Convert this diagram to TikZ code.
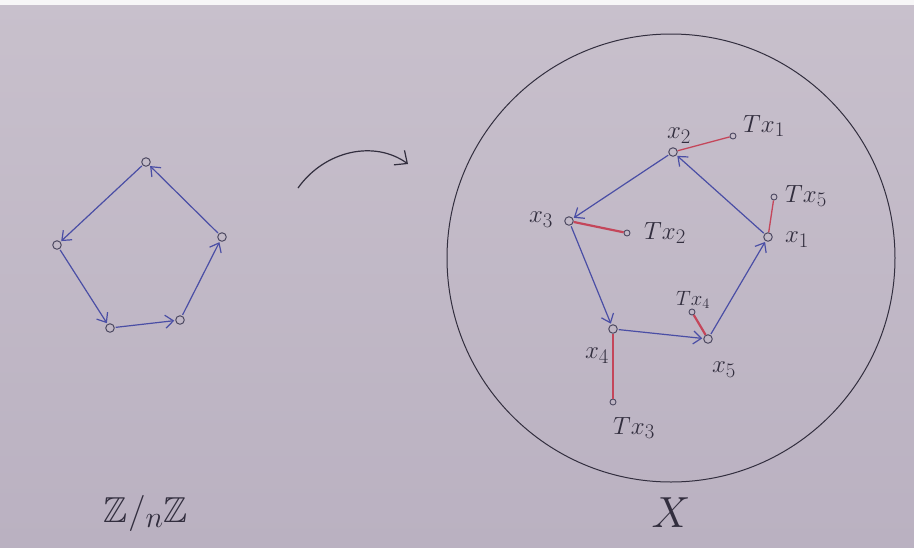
\documentclass[tikz,border=0pt]{standalone}
\usepackage{amssymb}
\usepackage{graphicx}
\usetikzlibrary{arrows.meta}
\definecolor{papertop}{RGB}{200,192,204}
\definecolor{paperbot}{RGB}{186,177,193}
\definecolor{ink}{RGB}{50,46,62}
\definecolor{bluepen}{RGB}{74,78,165}
\definecolor{redpen}{RGB}{196,70,90}
\definecolor{nodepen}{RGB}{78,74,98}
\tikzset{
  vtx/.style={circle,draw=nodepen,line width=1pt,inner sep=0pt,minimum size=8.5pt},
  tvtx/.style={circle,draw=nodepen,line width=0.9pt,inner sep=0pt,minimum size=6pt},
  barrow/.style={draw=bluepen,line width=1.2pt,-{Straight Barb[length=8pt,width=13pt]},shorten >=1pt,shorten <=1pt},
  rline/.style={draw=redpen,line width=1.3pt},
  lbl/.style={text=ink,inner sep=0pt,font=\fontsize{24.88}{27}\selectfont},
  slbl/.style={text=ink,inner sep=0pt,font=\fontsize{20.74}{23}\selectfont}
}
\begin{document}
\begin{tikzpicture}[x=1pt,y=-1pt]
\useasboundingbox (0,0) rectangle (914,547);
\shade[top color=papertop,bottom color=paperbot] (0,0) rectangle (914,547);
\fill[white!85!papertop] (0,0) rectangle (914,5);

% left pentagon
\node[vtx] (p1) at (146,162) {};
\node[vtx] (p2) at (57,245) {};
\node[vtx] (p3) at (110,328) {};
\node[vtx] (p4) at (180,320) {};
\node[vtx] (p5) at (222,237) {};
\draw[barrow] (p1) -- (p2);
\draw[barrow] (p2) -- (p3);
\draw[barrow] (p3) -- (p4);
\draw[barrow] (p4) -- (p5);
\draw[barrow] (p5) -- (p1);

% map arrow
\coordinate (ms) at (298,188);
\coordinate (me) at (408,164);
\draw[ink,line width=1.2pt,-{Straight Barb[length=10pt,width=18pt]}] (ms) .. controls (325,150) and (375,140) .. (me);

% big circle
\node[draw=ink,line width=1pt,circle,minimum size=448pt,inner sep=0pt] (space) at (671,258) {};

% right graph
\node[vtx] (x1) at (768,237) {};
\node[vtx] (x2) at (673,152) {};
\node[vtx] (x3) at (569,221) {};
\node[vtx] (x4) at (613,329) {};
\node[vtx] (x5) at (708,339) {};
\node[tvtx] (t1) at (733,136) {};
\node[tvtx] (t2) at (627,233) {};
\node[tvtx] (t3) at (613,402) {};
\node[tvtx] (t4) at (692,312) {};
\node[tvtx] (t5) at (774,197) {};

\draw[barrow] (x1) -- (x2);
\draw[barrow] (x2) -- (x3);
\draw[barrow] (x3) -- (x4);
\draw[barrow] (x4) -- (x5);
\draw[barrow] (x5) -- (x1);

\draw[rline] (x2) -- (t1);
\draw[rline,line width=2.2pt] (x3) -- (t2);
\draw[rline] (x4) -- (t3);
\draw[rline,line width=2.2pt] (x5) -- (t4);
\draw[rline] (x1) -- (t5);

\node[lbl] (lx1) at (797,240) {$x_1$};
\node[lbl] (lx2) at (679,136) {$x_2$};
\node[lbl] (lx3) at (541,220) {$x_3$};
\node[lbl] (lx4) at (597,356) {$x_4$};
\node[lbl] (lx5) at (724,370) {$x_5$};
\node[lbl] (lt1) at (764,126) {$Tx_1$};
\node[lbl] (lt2) at (665,233) {$Tx_2$};
\node[lbl] (lt3) at (634,428) {$Tx_3$};
\node[slbl] (lt4) at (693,300) {$Tx_4$};
\node[lbl] (lt5) at (806,196) {$Tx_5$};

% bottom labels
\node[text=ink,font=\fontsize{24.88}{27}\selectfont] (zn) at (146,513) {\scalebox{1.45}{$\mathbb{Z}/_{n}\mathbb{Z}$}};
\node[text=ink,font=\fontsize{24.88}{27}\selectfont] (xx) at (671,513) {\scalebox{1.75}{$X$}};
\end{tikzpicture}
\end{document}
